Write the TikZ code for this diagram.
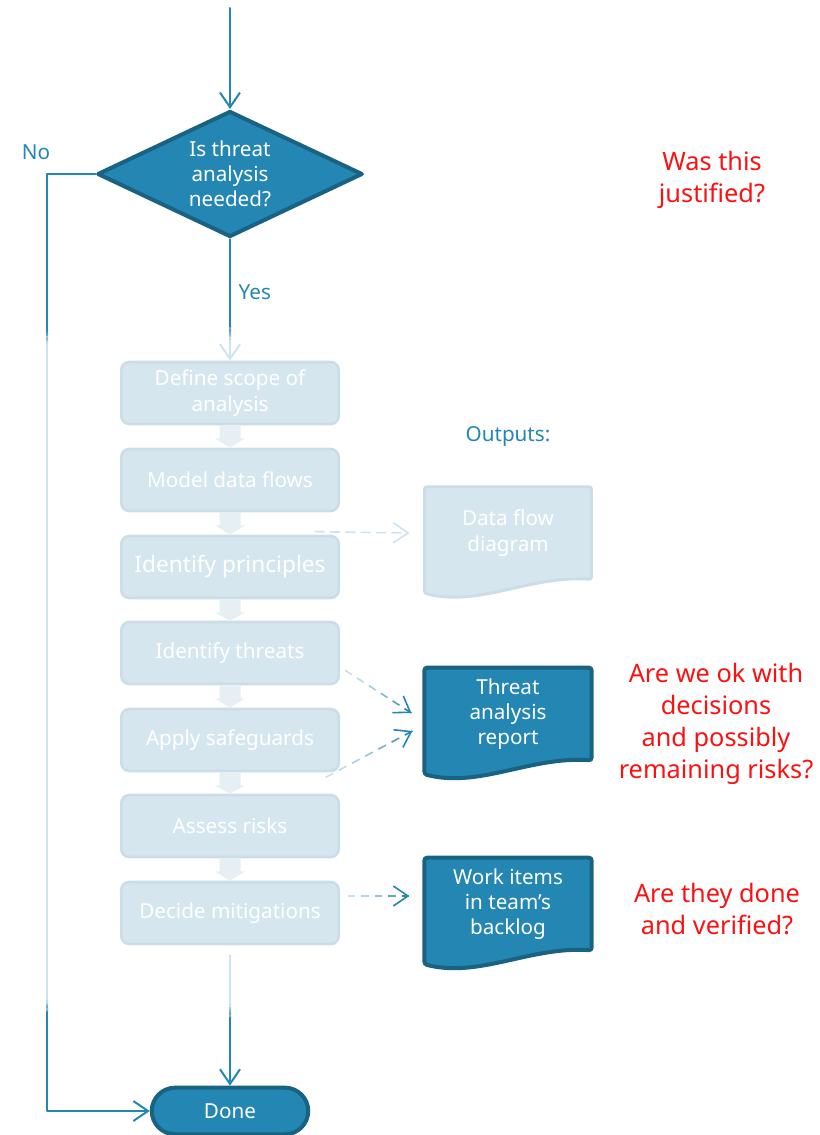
\documentclass[tikz,border=0pt]{standalone}
\usepackage{fontspec}
\setmainfont{Noto Sans}
\usetikzlibrary{shapes.geometric,shapes.misc,arrows.meta,calc,backgrounds}

\definecolor{flowblue}{RGB}{35,134,179}
\definecolor{flowdark}{RGB}{26,98,130}
\definecolor{flowpale}{RGB}{213,230,239}
\definecolor{paleedge}{RGB}{203,221,230}
\definecolor{paleline}{RGB}{207,227,238}
\definecolor{palearrow}{RGB}{229,239,244}
\definecolor{askred}{RGB}{250,18,18}

\tikzset{
  stepbox/.style={rectangle,rounded corners=6pt,fill=flowpale,draw=paleedge,line width=2pt,
    minimum width=163pt,minimum height=46.5pt,inner sep=2pt,align=center,text=white,
    font=\fontsize{15.5}{19.5}\selectfont},
  decision/.style={diamond,aspect=2,fill=flowblue,draw=flowdark,line width=3pt,inner sep=0pt,
    minimum width=199pt,minimum height=94.5pt,align=center,text=white,
    font=\fontsize{15.5}{18.8}\selectfont},
  terminal/.style={rounded rectangle,fill=flowblue,draw=flowdark,line width=3pt,
    minimum width=124pt,minimum height=35pt,text=white,font=\fontsize{15.5}{18}\selectfont},
  outdoc/.style={rectangle,minimum width=125pt,minimum height=69pt,inner sep=0pt,align=center,
    text=white,font=\fontsize{15.5}{19}\selectfont},
  flowlabel/.style={text=flowblue,font=\fontsize{15.5}{18}\selectfont},
  ask/.style={text=askred,align=center,font=\fontsize{19}{24}\selectfont},
  flow/.style={draw=flowblue,line width=1.5pt,-{Straight Barb[length=11pt,width=15pt]}},
  flowline/.style={draw=flowblue,line width=1.5pt},
  paleflow/.style={draw=paleline,line width=1.5pt},
  dashseg/.style={line width=1.2pt,line cap=butt}
}

% solid line whose colour goes from one mix to another
\newcommand{\fadeline}[4]{%
  \foreach \k in {0,...,11}{
    \pgfmathsetmacro{\tA}{\k/12}
    \pgfmathsetmacro{\tB}{(\k+1)/12}
    \pgfmathsetmacro{\mixv}{#3+(#4-#3)*(\k+0.5)/12}
    \draw[line width=1.5pt,line cap=butt,draw=flowblue!\mixv!paleline] ($(#1)!\tA!(#2)$) -- ($(#1)!\tB!(#2)$);
  }%
}
% dashed line, pale at the start and dark at the arrow
\newcommand{\fadedash}[3]{%
  \foreach \k in {1,...,#3}{
    \pgfmathsetmacro{\tA}{(\k-0.58)/#3}
    \pgfmathsetmacro{\tB}{\k/#3}
    \pgfmathsetmacro{\mixv}{100*(\k/#3)^2}
    \draw[dashseg,draw=flowblue!\mixv!paleline] ($(#1)!\tA!(#2)$) -- ($(#1)!\tB!(#2)$);
  }%
  \draw[line width=1.2pt,draw=flowblue,-{Straight Barb[length=11pt,width=15pt]}] ($(#1)!0.97!(#2)$) -- (#2);
}
% document outline behind a node
\newcommand{\docshape}[4]{%
  \begin{scope}[on background layer]
    \draw[fill=#2,draw=#3,line width=#4,rounded corners=2pt]
      (#1.north west) -- (#1.north east) -- (#1.south east)
      .. controls ($(#1.south east)+(-62,-4)$) and ($(#1.south west)+(55,28)$) .. ($(#1.south west)+(0,14)$)
      -- cycle;
  \end{scope}%
}

\begin{document}
\begin{tikzpicture}[x=0.75pt,y=-0.75pt,line cap=round,line join=round]
  \useasboundingbox (0,0) rectangle (819,1135);

  % decision
  \coordinate (entry) at (230,8);
  \node[decision] (needed) at (230,174) {Is threat\\analysis\\needed?};
  \draw[flow] (entry) -- (needed.north);

  % steps
  \node[stepbox] (scope) at (230,393) {Define scope of\\analysis};
  \node[stepbox] (flows) at (230,480) {Model data flows};
  \node[stepbox,font=\fontsize{17}{20}\selectfont] (principles) at (230,567) {Identify principles};
  \node[stepbox] (threats) at (230,653) {Identify threats};
  \node[stepbox] (safeguards) at (230,740) {Apply safeguards};
  \node[stepbox] (risks) at (230,826) {Assess risks};
  \node[stepbox] (mitigations) at (230,913) {Decide mitigations};
  \foreach \a/\b in {scope/flows,flows/principles,principles/threats,threats/safeguards,safeguards/risks,risks/mitigations}{
    \fill[palearrow] ($(\a.south)+(-10.5,0)$) -- ($(\a.south)+(10.5,0)$) -- ($(\a.south)+(10.5,13)$)
      -- ($(\a.south)+(15,13)$) -- (\b.north) -- ($(\a.south)+(-15,13)$) -- ($(\a.south)+(-10.5,13)$) -- cycle;
  }

  \node[terminal] (done) at (230,1111) {Done};

  % yes branch
  \coordinate (yesA) at (230,326);
  \coordinate (yesB) at (230,341);
  \draw[flowline] (needed.south) -- (yesA);
  \fadeline{yesA}{yesB}{100}{0}
  \draw[paleflow,-{Straight Barb[length=11pt,width=15pt]}] (yesB) -- (scope.north);
  \node[flowlabel,anchor=west] (yes) at (234,292) {Yes};

  % no branch
  \coordinate (noA) at (47,330);
  \coordinate (noB) at (47,345);
  \coordinate (noC) at (47,999);
  \coordinate (noD) at (47,1013);
  \draw[flowline] (needed.west) -| (noA);
  \fadeline{noA}{noB}{100}{0}
  \draw[paleflow] (noB) -- (noC);
  \fadeline{noC}{noD}{0}{100}
  \draw[flow] (noD) |- (done.west);
  \node[flowlabel] (no) at (36,152) {No};

  % to done
  \coordinate (endA) at (230,1004);
  \coordinate (endB) at (230,1019);
  \draw[paleflow] ($(mitigations.south)+(0,10)$) -- (endA);
  \fadeline{endA}{endB}{0}{100}
  \draw[flow] (endB) -- (done.north);

  % outputs
  \node[flowlabel] (outputs) at (508,436) {Outputs:};
  \node[outdoc] (dfd) at (508,533) {Data flow\\diagram};
  \node[outdoc] (report) at (508,714) {Threat\\analysis\\report};
  \node[outdoc] (backlog) at (508,904) {Work items\\in team’s\\backlog};
  \docshape{dfd}{flowpale}{paleedge}{2.2pt}
  \docshape{report}{flowblue}{flowdark}{3pt}
  \docshape{backlog}{flowblue}{flowdark}{3pt}

  \draw[paleline,line width=1.2pt,dash pattern=on 7pt off 4.5pt,-{Straight Barb[length=11pt,width=15pt]}]
    ($(principles.north east)+(-25,-3)$) -- ($(dfd.west)+(-15,0)$);
  \coordinate (thrS) at ($(threats.east)+(0,14)$);
  \coordinate (thrE) at ($(report.west)+(-13,-1)$);
  \fadedash{thrS}{thrE}{6}
  \coordinate (safS) at ($(safeguards.south east)+(-20,8)$);
  \coordinate (safE) at ($(report.west)+(-12,17)$);
  \fadedash{safS}{safE}{7}
  \coordinate (mitS) at ($(mitigations.east)+(2,-17)$);
  \coordinate (mitE) at ($(backlog.west)+(-15,-8)$);
  \fadedash{mitS}{mitE}{5}

  % questions
  \node[ask] (q1) at (712,180) {Was this\\justified?};
  \node[ask] (q2) at (716,724) {Are we ok with\\decisions\\and possibly\\remaining risks?};
  \node[ask] (q3) at (717,909) {Are they done\\and verified?};
\end{tikzpicture}
\end{document}
